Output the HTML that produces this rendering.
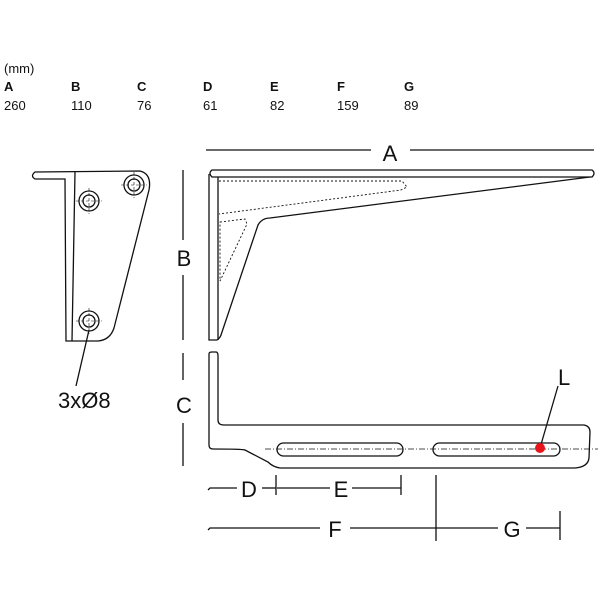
<!DOCTYPE html>
<html><head><meta charset="utf-8"><style>body{margin:0;background:#fff}svg{display:block}</style></head><body>
<svg width="600" height="600" viewBox="0 0 600 600" xmlns="http://www.w3.org/2000/svg" font-family="Liberation Sans, sans-serif">
<rect width="600" height="600" fill="#fff"/>
<g font-size="13" fill="#111">
<text x="4" y="73">(mm)</text>
<g font-weight="bold"><text x="4" y="91">A</text><text x="71" y="91">B</text><text x="137" y="91">C</text><text x="203" y="91">D</text><text x="270" y="91">E</text><text x="337" y="91">F</text><text x="404" y="91">G</text></g>
<text x="4" y="110">260</text><text x="71" y="110">110</text><text x="137" y="110">76</text><text x="203" y="110">61</text><text x="270" y="110">82</text><text x="337" y="110">159</text><text x="404" y="110">89</text>
</g>
<g fill="none" stroke="#111" stroke-width="1.3">
<path d="M35,172 L140,171 Q152,174 149,190 L114,328 Q110,340 98,341 L66,341 L65,179 L35,179 Q30,176 35,172 Z"/>
<line x1="75" y1="172" x2="72" y2="341"/>
<circle cx="89" cy="201" r="10"/><circle cx="89" cy="201" r="6"/>
<circle cx="134" cy="185" r="10"/><circle cx="134" cy="185" r="6"/>
<circle cx="89" cy="321" r="10"/><circle cx="89" cy="321" r="6"/>
<g stroke-width="0.6" stroke-dasharray="3,2">
<line x1="76" y1="201" x2="102" y2="201"/><line x1="89" y1="188" x2="89" y2="214"/>
<line x1="121" y1="185" x2="147" y2="185"/><line x1="134" y1="172" x2="134" y2="198"/>
<line x1="76" y1="321" x2="102" y2="321"/><line x1="89" y1="308" x2="89" y2="334"/>
</g>
<line x1="89" y1="330" x2="76" y2="386"/>
<line x1="183" y1="170" x2="183" y2="240"/><line x1="183" y1="275" x2="183" y2="340"/>
<line x1="183" y1="353" x2="183" y2="380"/><line x1="183" y1="423" x2="183" y2="466"/>
<line x1="206" y1="150" x2="371" y2="150"/><line x1="410" y1="150" x2="594" y2="150"/>
<path d="M212,170 L592,170 Q596,173 592,177 L212,177 Q208,173 212,170 Z"/>
<path d="M209,174 L209,340 L217,340 Q220,338 221,335 L258,225 Q262,218 270,218 L590,177"/>
<line x1="218" y1="177" x2="218" y2="340"/>
<g stroke-width="0.9" stroke-dasharray="2,2">
<path d="M219,181 L402,181 L407,187 L401,190 L219,214"/>
<path d="M220,222 L245,219 L247,224 L220,281 Z"/>
</g>
<path d="M209,354 Q209,352 212,352 L216,352 Q218,352 218,356 L218,420 Q218,425 224,425 L584,425 Q590,426 590,432 L589,458 Q588,467 575,468 L280,468 Q273,467 268,462 L245,450 Q242,449 213,449 Q209,449 209,445 Z"/>
<rect x="277" y="443" width="126" height="13" rx="6.5"/>
<rect x="433" y="443" width="127" height="13" rx="6.5"/>
<line x1="265" y1="449" x2="598" y2="449" stroke-width="0.7" stroke-dasharray="6,2,1,2"/>
<line x1="540" y1="448" x2="558" y2="386"/>
<path d="M208,490 L210,488 L237,488"/><line x1="262" y1="488" x2="276" y2="488"/>
<line x1="276" y1="475" x2="276" y2="495"/><line x1="277" y1="488" x2="330" y2="488"/>
<line x1="352" y1="488" x2="401" y2="488"/><line x1="401" y1="475" x2="401" y2="495"/>
<path d="M208,530 L210,528 L320,528"/><line x1="350" y1="528" x2="436" y2="528"/>
<line x1="436" y1="475" x2="436" y2="541"/><line x1="436" y1="528" x2="498" y2="528"/>
<line x1="526" y1="528" x2="560" y2="528"/><line x1="560" y1="511" x2="560" y2="540"/>
</g>
<circle cx="540" cy="448" r="5" fill="#e8141c"/>
<g font-size="22" fill="#111">
<text x="390" y="161" text-anchor="middle">A</text>
<text x="184" y="266" text-anchor="middle">B</text>
<text x="184" y="413" text-anchor="middle">C</text>
<text x="58" y="408">3xØ8</text>
<text x="558" y="385">L</text>
<text x="249" y="497" text-anchor="middle">D</text>
<text x="341" y="497" text-anchor="middle">E</text>
<text x="335" y="537" text-anchor="middle">F</text>
<text x="512" y="537" text-anchor="middle">G</text>
</g>
</svg>
</body></html>
